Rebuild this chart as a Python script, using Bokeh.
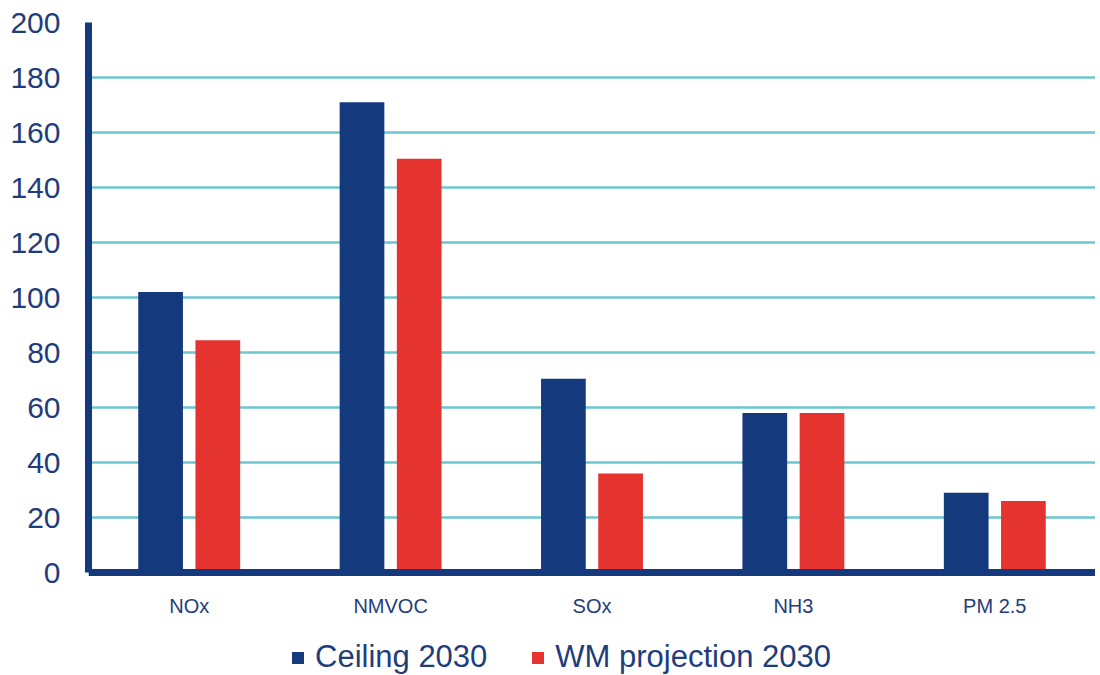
from bokeh.plotting import figure
from bokeh.models import (Range1d, FactorRange, ColumnDataSource, Legend, LegendItem,
                          FixedTicker, CategoricalAxis)
from bokeh.transform import dodge
from bokeh.embed import file_html
from bokeh.resources import INLINE

categories = ["NOx", "NMVOC", "SOx", "NH3", "PM 2.5"]
ceiling_2030 = [102, 171, 70.5, 58, 29]
wm_projection_2030 = [84.5, 150.5, 36, 58, 26]
series_names = ["Ceiling 2030", "WM projection 2030"]
y_ticks = [0, 20, 40, 60, 80, 100, 120, 140, 160, 180, 200]

BLUE = "#14397D"
RED = "#E53330"
GRID = "#6CC6D1"
TEXT = "#1F3D7C"
FONT = "Liberation Sans"

src = ColumnDataSource(dict(cat=categories, c=ceiling_2030, w=wm_projection_2030))

# frame runs to the bottom of the page; the region below y=0 hosts axis labels and legend
p = figure(frame_width=1007, frame_height=653, output_backend="svg", toolbar_location=None,
           x_range=FactorRange(*categories, range_padding=0), y_range=Range1d(-37.45, 200),
           x_axis_location=None,
           min_border_left=88, min_border_right=0, min_border_top=22, min_border_bottom=0)
p.outline_line_color = None
p.background_fill_color = "white"
p.border_fill_color = "white"

r1 = p.vbar(x=dodge("cat", -0.142, range=p.x_range), top="c", bottom=0, width=0.222, source=src,
            fill_color=BLUE, line_color=None)
r2 = p.vbar(x=dodge("cat", 0.142, range=p.x_range), top="w", bottom=0, width=0.222, source=src,
            fill_color=RED, line_color=None)

p.xgrid.grid_line_color = None
p.ygrid.grid_line_color = GRID
p.ygrid.grid_line_width = 2.5
p.yaxis.ticker = FixedTicker(ticks=y_ticks)
p.yaxis.bounds = (0, 200)

xaxis = CategoricalAxis(fixed_location=0)
p.add_layout(xaxis, "below")

for ax in (xaxis, p.yaxis[0]):
    ax.axis_line_color = BLUE
    ax.axis_line_width = 7
    ax.major_tick_line_color = None
    ax.minor_tick_line_color = None
    ax.major_label_text_color = TEXT
    ax.major_label_text_font = FONT

p.yaxis.major_label_text_font_size = "30px"
p.yaxis.major_label_standoff = 22
xaxis.major_label_text_font_size = "20px"
xaxis.major_label_standoff = 16

legend = Legend(items=[LegendItem(label=series_names[0], renderers=[r1]),
                       LegendItem(label=series_names[1], renderers=[r2])],
                orientation="horizontal", location=(202, 0))
legend.label_text_font = FONT
legend.label_text_font_size = "31px"
legend.label_text_color = TEXT
legend.glyph_width = 15
legend.glyph_height = 15
legend.spacing = 43
legend.label_standoff = 10
legend.border_line_color = None
legend.background_fill_alpha = 0
legend.margin = 0
legend.padding = 0
p.add_layout(legend, "center")

open("out.html", "w").write(file_html(p, INLINE))
